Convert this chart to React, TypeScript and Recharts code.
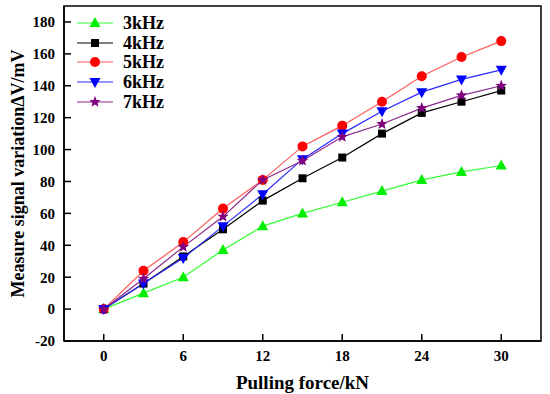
import React from "react";
import {
  LineChart, Line, XAxis, YAxis, Legend, ReferenceArea,
} from "recharts";

const FORCE = [0, 3, 6, 9, 12, 15, 18, 21, 24, 27, 30];
const F3K = [0, 10, 20, 37, 52, 60, 67, 74, 81, 86, 90];
const F4K = [0, 16, 33, 50, 68, 82, 95, 110, 123, 130, 137];
const F5K = [0, 24, 42, 63, 81, 102, 115, 130, 146, 158, 168];
const F6K = [0, 16, 32, 52, 72, 94, 110, 124, 136, 144, 150];
const F7K = [0, 19, 39, 58, 81, 93, 108, 116, 126, 134, 140];

const X_TICKS = [0, 6, 12, 18, 24, 30];
const Y_TICKS = [-20, 0, 20, 40, 60, 80, 100, 120, 140, 160, 180];

const SERIES = [
  { key: "k3", name: "3kHz", line: "#33ff33", fill: "#00ee00", shape: "triangle" },
  { key: "k4", name: "4kHz", line: "#000000", fill: "#000000", shape: "square" },
  { key: "k5", name: "5kHz", line: "#ff5a5a", fill: "#ff0000", shape: "circle" },
  { key: "k6", name: "6kHz", line: "#2a2aff", fill: "#0000ff", shape: "down" },
  { key: "k7", name: "7kHz", line: "#8a2a8a", fill: "#800080", shape: "star" },
];

const data = FORCE.map((f, i) => ({
  force: f, k3: F3K[i], k4: F4K[i], k5: F5K[i], k6: F6K[i], k7: F7K[i],
}));

const FONT = "'Liberation Serif', 'Times New Roman', serif";

function Marker({ shape, cx, cy, color }: { shape: string; cx: number; cy: number; color: string }) {
  if (shape === "triangle") {
    return <polygon points={`${cx},${cy - 6} ${cx - 5.5},${cy + 4} ${cx + 5.5},${cy + 4}`} fill={color} />;
  }
  if (shape === "down") {
    return <polygon points={`${cx},${cy + 6} ${cx - 5.5},${cy - 4} ${cx + 5.5},${cy - 4}`} fill={color} />;
  }
  if (shape === "square") {
    return <rect x={cx - 4} y={cy - 4} width={8} height={8} fill={color} />;
  }
  if (shape === "circle") {
    return <circle cx={cx} cy={cy} r={5} fill={color} />;
  }
  const pts: string[] = [];
  for (let i = 0; i < 10; i++) {
    const r = i % 2 === 0 ? 6 : 2.6;
    const a = -Math.PI / 2 + (i * Math.PI) / 5;
    pts.push(`${cx + r * Math.cos(a)},${cy + r * Math.sin(a)}`);
  }
  return <polygon points={pts.join(" ")} fill={color} />;
}

function LegendBox() {
  return (
    <div style={{ fontFamily: FONT, fontWeight: "bold", fontSize: 18, textAlign: "left" }}>
      {SERIES.map((s) => (
        <div key={s.key} style={{ display: "flex", alignItems: "center", height: 19.7 }}>
          <svg width={46} height={16} style={{ overflow: "visible" }}>
            <line x1={0} y1={8} x2={36} y2={8} stroke={s.line} strokeWidth={1.2} />
            <Marker shape={s.shape} cx={18} cy={8} color={s.fill} />
          </svg>
          <span style={{ color: "#000", lineHeight: "18px" }}>{s.name}</span>
        </div>
      ))}
    </div>
  );
}

const tickStyle = { fill: "#000", fontSize: 15, fontWeight: "bold", fontFamily: FONT };

export default function App() {
  return (
    <div style={{ position: "absolute", left: 0, top: 0, background: "#fff" }}>
      <LineChart width={550} height={394} data={data} margin={{ top: 6, right: 9, left: 0, bottom: 8 }}>
        <XAxis
          dataKey="force"
          type="number"
          domain={[-3, 33]}
          ticks={X_TICKS}
          allowDataOverflow
          height={45}
          tick={tickStyle}
          tickSize={-7}
          tickMargin={16}
          stroke="#000"
          strokeWidth={1.5}
          label={{
            value: "Pulling force/kN",
            position: "insideBottom",
            offset: -3,
            style: { fill: "#000", fontSize: 19, fontWeight: "bold", fontFamily: FONT },
          }}
        />
        <YAxis
          type="number"
          domain={[-20, 190]}
          ticks={Y_TICKS}
          allowDataOverflow
          width={64}
          tick={tickStyle}
          tickSize={-7}
          tickMargin={16}
          stroke="#000"
          strokeWidth={1.5}
          label={{
            value: "Measure signal variationΔV/mV",
            angle: -90,
            position: "insideLeft",
            offset: 18,
            style: { textAnchor: "middle", fill: "#000", fontSize: 18, fontWeight: "bold", fontFamily: FONT },
          }}
        />
        <ReferenceArea x1={-3} x2={33} y1={-20} y2={190} fill="none" stroke="#000" strokeWidth={1.5} />
        <Legend
          layout="vertical"
          verticalAlign="middle"
          align="center"
          content={() => <LegendBox />}
          wrapperStyle={{ left: 77, top: 13, width: 120 }}
        />
        {SERIES.map((s) => (
          <Line
            key={s.key}
            dataKey={s.key}
            name={s.name}
            stroke={s.line}
            strokeWidth={1.2}
            isAnimationActive={false}
            dot={(p: any) => (
              <Marker key={`${s.key}-${p.index}`} shape={s.shape} cx={p.cx} cy={p.cy} color={s.fill} />
            )}
            activeDot={false}
          />
        ))}
      </LineChart>
    </div>
  );
}
